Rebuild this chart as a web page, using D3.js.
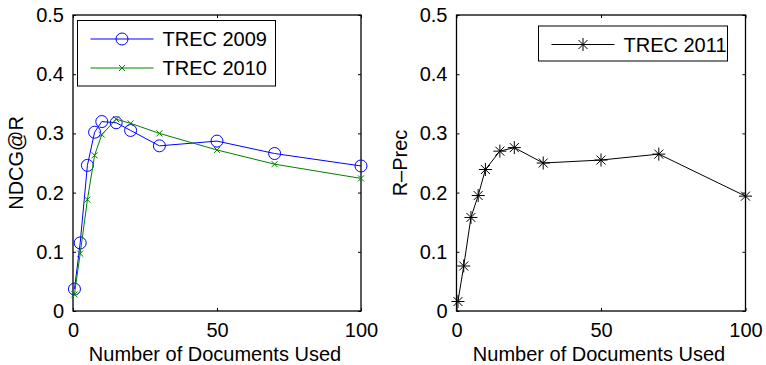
<!DOCTYPE html>
<html>
<head>
<meta charset="utf-8">
<script src="https://cdn.jsdelivr.net/npm/d3@7"></script>
<style>
  body { margin: 0; background: #fff; }
  svg { display: block; font-family: "Liberation Sans", Arial, Helvetica, sans-serif; }
</style>
</head>
<body>
<div id="container"></div>
<script>
/* DATA */
const docsUsed = [0.5, 2.5, 5, 7.5, 10, 15, 20, 30, 50, 70, 100]
const trec2009 = [0.037, 0.115, 0.246, 0.302, 0.320, 0.318, 0.305, 0.279, 0.287, 0.266, 0.245]
const trec2010 = [0.028, 0.097, 0.188, 0.263, 0.298, 0.324, 0.317, 0.300, 0.272, 0.248, 0.224]
const trec2011 = [0.016, 0.076, 0.158, 0.195, 0.239, 0.270, 0.276, 0.250, 0.255, 0.265, 0.194]
const xTicks = [0, 50, 100]
const yTicks = [0, 0.1, 0.2, 0.3, 0.4, 0.5]

/* CONSTANTS */
const width = 766, height = 365
const plotTop = 15, plotBottom = 311
const fontSize = "20px"

const svg = d3.select("#container")
  .append("svg")
  .attr("width", width)
  .attr("height", height)

// little marker shapes, matlab style
function drawMarker(g, kind, color) {
  if (kind === "o") {
    g.append("circle").attr("r", 6).attr("fill", "none").attr("stroke", color).attr("stroke-width", 1)
  } else if (kind === "x") {
    g.append("path").attr("d", "M-3,-3L3,3M-3,3L3,-3").attr("stroke", color).attr("stroke-width", 1)
  } else if (kind === "*") {
    g.append("path").attr("d", "M0,-6.5L0,6.5M-6.5,0L6.5,0M-4.5,-4.5L4.5,4.5M-4.5,4.5L4.5,-4.5")
      .attr("stroke", color).attr("stroke-width", 1)
  }
}

function panel(left, right, series, ylabel, ylabelX, legend) {
  const xScale = d3.scaleLinear().domain([0, 100]).range([left, right])
  const yScale = d3.scaleLinear().domain([0, 0.5]).range([plotBottom, plotTop])

  const g = svg.append("g")

  // ticks on all 4 sides, pointing in
  g.append("g")
    .attr("transform", `translate(0, ${plotBottom})`)
    .call(d3.axisBottom(xScale).tickValues(xTicks).tickSizeInner(-3).tickSizeOuter(0).tickPadding(12).tickFormat(d3.format("d")))
  g.append("g")
    .attr("transform", `translate(0, ${plotTop})`)
    .call(d3.axisTop(xScale).tickValues(xTicks).tickSizeInner(-3).tickSizeOuter(0).tickFormat(""))
  g.append("g")
    .attr("transform", `translate(${left}, 0)`)
    .call(d3.axisLeft(yScale).tickValues(yTicks).tickSizeInner(-3).tickSizeOuter(0).tickPadding(9).tickFormat(d => d === 0 ? "0" : d3.format(".1f")(d)))
  g.append("g")
    .attr("transform", `translate(${right}, 0)`)
    .call(d3.axisRight(yScale).tickValues(yTicks).tickSizeInner(-3).tickSizeOuter(0).tickFormat(""))

  g.selectAll(".domain").remove()
  g.selectAll(".tick line").attr("stroke", "#000")
  g.selectAll(".tick text").attr("fill", "#000").style("font-size", fontSize)

  g.append("rect")
    .attr("x", left).attr("y", plotTop)
    .attr("width", right - left).attr("height", plotBottom - plotTop)
    .attr("fill", "none").attr("stroke", "#000").attr("stroke-width", 1.3)

  const lineGen = d3.line()
    .x(d => xScale(d[0]))
    .y(d => yScale(d[1]))

  series.forEach(s => {
    const pts = docsUsed.map((x, i) => [x, s.values[i]])
    g.append("path")
      .datum(pts)
      .attr("fill", "none")
      .attr("stroke", s.color)
      .attr("stroke-width", 1)
      .attr("d", lineGen)
    g.selectAll(null)
      .data(pts)
      .join("g")
      .attr("transform", d => `translate(${xScale(d[0])}, ${yScale(d[1])})`)
      .each(function() { drawMarker(d3.select(this), s.marker, s.color) })
  })

  // axis labels
  g.append("text")
    .attr("x", (left + right) / 2 - 2)
    .attr("y", 361)
    .attr("text-anchor", "middle")
    .style("font-size", fontSize)
    .text("Number of Documents Used")

  g.append("text")
    .attr("transform", `translate(${ylabelX}, ${(plotTop + plotBottom) / 2})rotate(-90)`)
    .attr("text-anchor", "middle")
    .style("font-size", fontSize)
    .text(ylabel)

  // legend
  const lg = g.append("g")
  lg.append("rect")
    .attr("x", legend.x).attr("y", legend.y)
    .attr("width", legend.w).attr("height", legend.h)
    .attr("fill", "#fff").attr("stroke", "#000").attr("stroke-width", 1)
  series.forEach((s, i) => {
    const cy = legend.y + 18.5 + i * 29
    const x0 = legend.x + 13
    lg.append("line")
      .attr("x1", x0).attr("x2", x0 + 63)
      .attr("y1", cy).attr("y2", cy)
      .attr("stroke", s.color).attr("stroke-width", 1)
    drawMarker(lg.append("g").attr("transform", `translate(${x0 + 31.5}, ${cy})`), s.marker, s.color)
    lg.append("text")
      .attr("x", x0 + 72)
      .attr("y", cy + 7)
      .style("font-size", fontSize)
      .text(s.name)
  })
}

panel(73, 361, [
  { name: "TREC 2009", values: trec2009, color: "#0000ff", marker: "o" },
  { name: "TREC 2010", values: trec2010, color: "#008000", marker: "x" }
], "NDCG@R", 22.5, { x: 77.5, y: 20.5, w: 198, h: 65.5 })

panel(456.5, 745.5, [
  { name: "TREC 2011", values: trec2011, color: "#000", marker: "*" }
], "R\u2013Prec", 407, { x: 538.5, y: 26, w: 189, h: 35 })
</script>
</body>
</html>
